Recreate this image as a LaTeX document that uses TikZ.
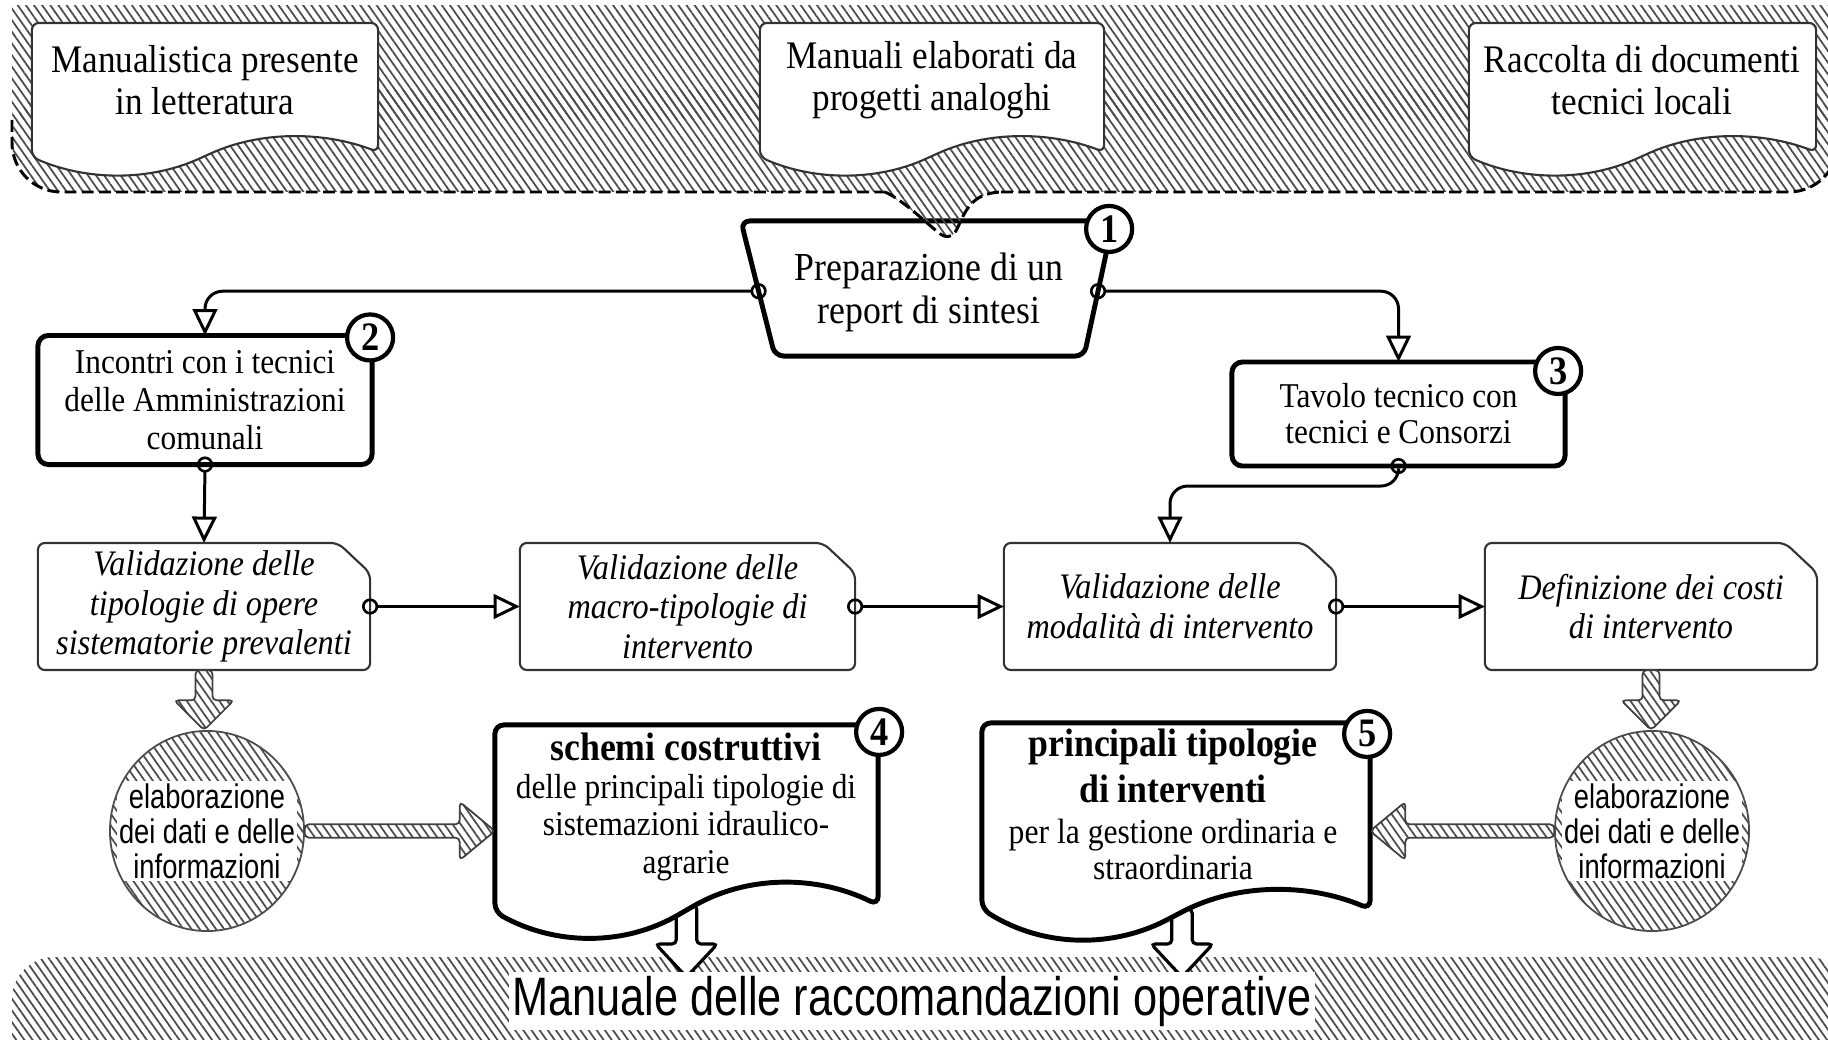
\documentclass[tikz,border=0pt]{standalone}
\usepackage{fontspec}
\setmainfont[FakeStretch=0.9]{Liberation Serif}
\setsansfont[FakeStretch=0.9]{Liberation Sans}
\newfontfamily\sansnarrow[FakeStretch=0.8]{Liberation Sans}
\usetikzlibrary{arrows.meta,patterns.meta,calc,shapes.geometric}
\pgfdeclarelayer{bg}
\pgfdeclarelayer{mid}
\pgfsetlayers{bg,mid,main}

\newcommand{\ftop}{\fontsize{11.1}{11.9}\selectfont}
\newcommand{\fone}{\fontsize{11.3}{12.2}\selectfont}
\newcommand{\ftwo}{\fontsize{9.9}{10.9}\selectfont}
\newcommand{\fthree}{\fontsize{9.9}{10.2}\selectfont}
\newcommand{\fval}{\fontsize{10.2}{11.3}\selectfont\itshape}
\newcommand{\fdoc}{\fontsize{9.9}{10.7}\selectfont}
\newcommand{\fdocf}{\fontsize{10}{10}\selectfont}
\newcommand{\fdocb}{\fontsize{11.3}{10.7}\selectfont\bfseries}
\newcommand{\fell}{\fontsize{9.7}{10}\selectfont\sansnarrow}
\newcommand{\fbot}{\fontsize{15.4}{16}\selectfont\sansnarrow}

\tikzset{
  hatch/.style={pattern={Lines[angle=-55,distance=1.9pt,line width=0.5pt]},pattern color=black!70},
  box/.style={rectangle,inner sep=0pt,outer sep=0pt},
  txt/.style={align=center,inner sep=0pt},
  thickline/.style={line width=1.4pt,rounded corners=2.5pt,fill=white},
  thinline/.style={line width=0.6pt,draw=black!80,rounded corners=2pt,fill=white},
  bandline/.style={line width=0.85pt,dash pattern=on 3.4pt off 1.5pt},
  conn/.style={line width=0.85pt,rounded corners=5pt,
    arrows={Circle[open,length=4.6pt,width=4.6pt,line width=0.75pt]-Triangle[open,length=7.5pt,width=7pt]},
    shorten <=-2.3pt},
  numc/.style={circle,draw,fill=white,line width=1.2pt,minimum size=0.46cm,inner sep=0pt,
    font=\fontsize{11.5}{11.5}\selectfont\bfseries},
  blockhatch/.style={hatch,draw=black!75,line width=0.5pt,rounded corners=1.2pt},
  blockopen/.style={fill=white,draw=black,line width=0.9pt,rounded corners=1.2pt},
  vbox/.style={box,minimum width=3.32cm,minimum height=1.27cm,align=center,font=\fval},
  ebox/.style={ellipse,inner sep=0pt,minimum width=1.94cm,minimum height=2.0cm},
}

% hatched block arrow pointing down: from #1 to #2 (x taken from #1)
\newcommand{\hdown}[2]{%
  \path[blockhatch] let \p1=(#1), \p2=(#2) in
   (\x1-2.4pt,\y1) -- (\x1-2.4pt,\y2+8.5pt) -- (\x1-8.5pt,\y2+8.5pt) -- (\x1,\y2)
   -- (\x1+8.5pt,\y2+8.5pt) -- (\x1+2.4pt,\y2+8.5pt) -- (\x1+2.4pt,\y1) -- cycle;}
% hatched block arrow pointing right (y from #1, tip x from #2)
\newcommand{\hright}[2]{%
  \path[blockhatch] let \p1=(#1), \p2=(#2) in
   (\x1,\y1+1.9pt) -- (\x2-10pt,\y1+1.9pt) -- (\x2-10pt,\y1+8.3pt) -- (\x2,\y1)
   -- (\x2-10pt,\y1-8.3pt) -- (\x2-10pt,\y1-1.9pt) -- (\x1,\y1-1.9pt) -- cycle;}
% hatched block arrow pointing left
\newcommand{\hleft}[2]{%
  \path[blockhatch] let \p1=(#1), \p2=(#2) in
   (\x1,\y1+1.9pt) -- (\x2+10pt,\y1+1.9pt) -- (\x2+10pt,\y1+8.3pt) -- (\x2,\y1)
   -- (\x2+10pt,\y1-8.3pt) -- (\x2+10pt,\y1-1.9pt) -- (\x1,\y1-1.9pt) -- cycle;}
% open block arrow down
\newcommand{\odown}[2]{%
  \path[blockopen] let \p1=(#1), \p2=(#2) in
   (\x1-2.9pt,\y1) -- (\x1-2.9pt,\y2+9.4pt) -- (\x1-8.8pt,\y2+9.4pt) -- (\x1,\y2)
   -- (\x1+8.8pt,\y2+9.4pt) -- (\x1+2.9pt,\y2+9.4pt) -- (\x1+2.9pt,\y1) -- cycle;}
% document shape with wavy bottom: #1 style, #2 node, #3 left offset, #4 trough ctrl, #5 peak ctrl, #6 middle
\newcommand{\wavydoc}[6]{%
  \draw[#1] (#2.north west) -- (#2.north east) -- (#2.south east)
   .. controls ($(#2.south west)!0.84!(#2.south east)+(0,#5)$) and ($(#2.south west)!0.66!(#2.south east)+(0,#5)$)
   .. ($(#2.south west)!0.5!(#2.south east)+(0,#6)$)
   .. controls ($(#2.south west)!0.34!(#2.south east)+(0,#4)$) and ($(#2.south west)!0.16!(#2.south east)+(0,#4)$)
   .. ($(#2.south west)+(0,#3)$) -- cycle;}

\begin{document}
\begin{tikzpicture}[x=0.01cm,y=-0.01cm]
\useasboundingbox (0,0) rectangle (1828,1040);

% ---------- nodes ----------
\node[box,minimum width=3.46cm,minimum height=1.29cm] (docA) at (205,87.5) {};
\node[txt,font=\ftop] (docAt) at (205,80) {Manualistica presente\\in letteratura};
\node[box,minimum width=3.44cm,minimum height=1.29cm] (docB) at (932,87.5) {};
\node[txt,font=\ftop] (docBt) at (932,80) {Manuali elaborati da\\progetti analoghi};
\node[box,minimum width=3.47cm,minimum height=1.29cm] (docC) at (1642.5,87.5) {};
\node[txt,font=\ftop] (docCt) at (1642,80) {Raccolta di documenti\\tecnici locali};

\node[box,minimum width=3.72cm,minimum height=1.35cm] (n1) at (927,288.5) {};
\node[txt,font=\fone] (n1t) at (929,292) {Preparazione di un\\report di sintesi};
\node[box,draw,line width=1.4pt,rounded corners=3pt,fill=white,minimum width=3.34cm,minimum height=1.29cm,align=center,font=\ftwo] (n2) at (205,400) {Incontri con i tecnici\\delle Amministrazioni\\comunali};
\node[box,draw,line width=1.4pt,rounded corners=3pt,fill=white,minimum width=3.33cm,minimum height=1.04cm,align=center,font=\fthree] (n3) at (1398.5,414) {Tavolo tecnico con\\tecnici e Consorzi};

\node[vbox] (V1) at (204,606.5) {Validazione delle\\tipologie di opere\\sistematorie prevalenti};
\node[vbox,minimum width=3.35cm] (V2) at (687.5,606.5) {Validazione delle\\macro-tipologie di\\intervento};
\node[vbox] (V3) at (1170,606.5) {Validazione delle\\modalità di intervento};
\node[vbox] (V4) at (1651,606.5) {Definizione dei costi\\di intervento};

\node[ebox] (E1) at (207,831) {};
\node[txt,font=\fell] (E1t) at (207,831) {elaborazione\\dei dati e delle\\informazioni};
\node[ebox] (E2) at (1652,831) {};
\node[txt,font=\fell] (E2t) at (1652,831) {elaborazione\\dei dati e delle\\informazioni};

\node[box,minimum width=3.83cm,minimum height=1.8cm] (D4) at (686.5,815) {};
\node[txt,font=\fdoc] (D4t) at (686,807) {{\fdocb schemi costruttivi}\\delle principali tipologie di\\sistemazioni idraulico-\\agrarie};
\node[box,minimum width=3.88cm,minimum height=1.86cm] (D5) at (1176,816) {};
\node[txt,font=\fdocf] (D5t) at (1173,804) {{\fdocb principali tipologie}\\[1.9pt]{\fdocb di interventi}\\[1.7pt]per la gestione ordinaria e\\straordinaria};

\node[fill=white,inner sep=1pt,font=\fbot] (man) at (912,1001) {Manuale delle raccomandazioni operative};

\coordinate (n1L) at ($(n1.north west)!0.52!([xshift=0.34cm]n1.south west)$);
\coordinate (n1R) at ($(n1.north east)!0.52!([xshift=-0.29cm]n1.south east)$);
\coordinate (t4) at (686.5,977);
\coordinate (t5) at (1182,977);

% ---------- background: bands ----------
\begin{pgfonlayer}{bg}
  \fill[hatch] (12,6) rectangle (1838,120);
  \fill[hatch,rounded corners=14pt] (12,90) -- (12,192) -- (1838,192) -- (1838,90) -- cycle;
  \draw[bandline,rounded corners=14pt] (12,120) -- (12,192) -- (885,192);
  \draw[bandline,rounded corners=14pt] (1001,192) -- (1838,192) -- (1838,120);
  \fill[hatch,rounded corners=12pt] (12,957) -- (12,1080) -- (1850,1080) -- (1850,957) -- cycle;
  \odown{D4.south}{t4}
  \odown{[xshift=0.06cm]D5.south}{t5}
\end{pgfonlayer}

% ---------- shapes ----------
\begin{pgfonlayer}{mid}
  \wavydoc{thinline}{docA}{5}{29}{-21}{4}
  \wavydoc{thinline}{docB}{5}{29}{-21}{4}
  \wavydoc{thinline}{docC}{5}{29}{-21}{4}
  \draw[thickline] (n1.north west) -- (n1.north east) -- ([xshift=-0.29cm]n1.south east)
     -- ([xshift=0.34cm]n1.south west) -- cycle;
  \foreach \v in {V1,V2,V3,V4}
    \draw[thinline] (\v.north west) -- ([xshift=-0.32cm]\v.north east) -- ([yshift=-0.30cm]\v.north east)
      -- (\v.south east) -- (\v.south west) -- cycle;
  \foreach \e in {E1,E2} {
    \fill[hatch] (\e.center) ellipse [x radius=0.97cm,y radius=1.0cm];
    \begin{scope}
      \clip (\e.center) ellipse [x radius=0.97cm,y radius=1.0cm];
      \fill[white] ($(\e.center)+(-90,-50)$) rectangle ($(\e.center)+(90,50)$);
    \end{scope}
    \draw[black!70,line width=0.5pt] (\e.center) ellipse [x radius=0.97cm,y radius=1.0cm];
  }
  \wavydoc{thickline}{D4}{7}{41}{-30}{5}
  \wavydoc{thickline}{D5}{0}{39}{-26}{6}
  \hdown{V1.south}{E1.north}
  \hdown{V4.south}{E2.north}
  \hright{E1.east}{D4.west}
  \hleft{E2.west}{D5.east}
\end{pgfonlayer}

% ---------- connectors ----------
\draw[conn] (n1L) -| (n2.north);
\draw[conn] (n1R) -| (n3.north);
\draw[conn] (n2.south) -- (V1.north);
\draw[conn] (n3.south) -- ([yshift=-0.2cm]n3.south) -| (V3.north);
\draw[conn] (V1.east) -- (V2.west);
\draw[conn] (V2.east) -- (V3.west);
\draw[conn] (V3.east) -- (V4.west);

% pointer from the top band to node 1
\fill[hatch] (879,190) .. controls (903,200) and (925,222) .. (939,233) .. controls (946,239) and (953,237) .. (957,229) .. controls (965,212) and (971,193) .. (1005,190) -- cycle;
\draw[bandline] (885,192) .. controls (903,200) and (925,222) .. (939,233) .. controls (946,239) and (953,237) .. (957,229) .. controls (965,212) and (971,193) .. (1001,192);

% ---------- numbers ----------
\node[numc] (c1) at ($(n1.north east)+(-4,8)$) {1};
\node[numc] (c2) at ($(n2.north east)+(-2,2)$) {2};
\node[numc] (c3) at ($(n3.north east)+(-7,9)$) {3};
\node[numc] (c4) at ($(D4.north east)+(1,7)$) {4};
\node[numc] (c5) at ($(D5.north east)+(-3,11)$) {5};
\end{tikzpicture}
\end{document}
